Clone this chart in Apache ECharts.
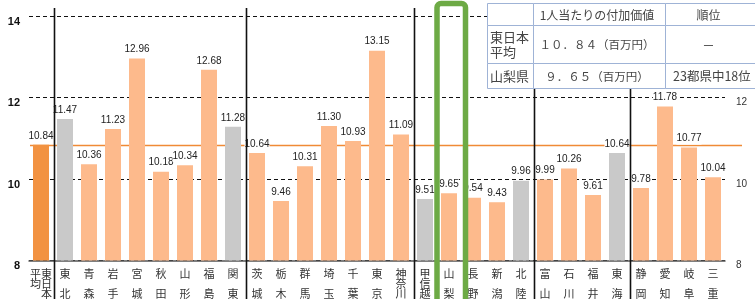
<!DOCTYPE html>
<html>
<head>
<meta charset="utf-8">
<script src="https://cdn.jsdelivr.net/npm/echarts@6/dist/echarts.min.js"></script>
<style>
html,body{margin:0;padding:0;background:#fff}
#main{width:755px;height:299px}
</style>
</head>
<body>
<div id="main"></div>
<script>
// 1人当たりの付加価値（百万円）
var categories = ['東日本平均','東北','青森','岩手','宮城','秋田','山形','福島','関東',
    '茨城','栃木','群馬','埼玉','千葉','東京','神奈川','甲信越','山梨','長野','新潟','北陸',
    '富山','石川','福井','東海','静岡','愛知','岐阜','三重'];
var values = [10.84,11.47,10.36,11.23,12.96,10.18,10.34,12.68,11.28,
    10.64,9.46,10.31,11.30,10.93,13.15,11.09,9.51,9.65,9.54,9.43,9.96,
    9.99,10.26,9.61,10.64,9.78,11.78,10.77,10.04];
var regions = ['東北','関東','甲信越','北陸','東海'];
var groupStarts = ['東北','茨城','甲信越','富山','静岡'];
var average = 10.84;
var highlight = '山梨';
var yMin = 8, yMax = 14, yStep = 2;

var tableHeader = ['', '1人当たりの付加価値', '順位'];
var tableRows = [
    ['東日本\n平均', '１０．８４（百万円）', '－'],
    ['山梨県', '９．６５（百万円）', '23都県中18位']
];

function catLabel(name) {
    if (name.length == 5) {
        // 東日本 / 平均 を縦書き2列で
        return name[3] + name[0] + '\n' + name[4] + name[1] + '\n　' + name[2];
    }
    if (name.length == 2) return name[0] + '\n\n' + name[1];
    return name.split('').join('\n');
}

function barColor(name, i) {
    if (i == 0) return '#F29241';
    if (regions.indexOf(name) >= 0) return '#C9C9C9';
    return '#FDBA8C';
}

var myChart = echarts.init(document.getElementById('main'));
var option = {
    animation: false,
    grid: {left: 29, right: 30, top: 16, bottom: 36},
    xAxis: {
        type: 'category',
        data: categories,
        axisTick: {show: false},
        axisLine: {lineStyle: {color: '#555', width: 1.5}},
        axisLabel: {
            interval: 0,
            margin: 8,
            fontSize: 11,
            lineHeight: 10,
            color: '#333',
            fontFamily: 'Noto Sans CJK JP',
            formatter: catLabel
        }
    },
    yAxis: [
        {
            type: 'value',
            min: yMin, max: yMax, interval: yStep,
            axisLine: {show: false},
            axisTick: {show: false},
            splitLine: {lineStyle: {color: '#111', type: [4, 3], width: 1}},
            axisLabel: {
                margin: 9,
                fontSize: 11,
                fontWeight: 'bold',
                color: '#111',
                fontFamily: 'Arial',
                verticalAlign: 'top'
            }
        },
        {
            type: 'value',
            position: 'right',
            min: yMin, max: yMax, interval: yStep,
            axisLine: {show: false},
            axisTick: {show: false},
            splitLine: {show: false},
            axisLabel: {
                margin: 11,
                fontSize: 10,
                color: '#333',
                fontFamily: 'Arial',
                verticalAlign: 'top'
            }
        }
    ],
    series: [{
        type: 'bar',
        z: 5,
        barWidth: 16,
        data: values.map(function (v, i) {
            return {value: v, itemStyle: {color: barColor(categories[i], i)}};
        }),
        label: {
            show: true,
            position: 'top',
            distance: 3,
            fontSize: 10,
            fontFamily: 'Arial',
            color: '#222',
            backgroundColor: '#fff',
            padding: [1, 0],
            formatter: function (p) { return p.value.toFixed(2); }
        }
    }]
};
myChart.setOption(option);

// 平均線・区切り線・強調枠・表
function px(i) { return myChart.convertToPixel({xAxisIndex: 0}, i); }
var elements = [];
var avgY = Math.round(myChart.convertToPixel({yAxisIndex: 0}, average)) + 0.5;
elements.push({
    type: 'line', z: 3,
    shape: {x1: 30, y1: avgY, x2: 742, y2: avgY},
    style: {stroke: '#F08A36', lineWidth: 1.3}
});
groupStarts.forEach(function (name) {
    var i = categories.indexOf(name);
    var x = Math.round((px(i - 1) + px(i)) / 2) + 1.5;
    elements.push({
        type: 'line', z: 50,
        shape: {x1: x, y1: 8, x2: x, y2: 299},
        style: {stroke: '#111', lineWidth: 1.6}
    });
});
var hx = px(categories.indexOf(highlight));
elements.push({
    type: 'rect', z: 60,
    shape: {x: hx - 12, y: 3.5, width: 28.5, height: 320, r: 4},
    style: {fill: null, stroke: '#6DAA45', lineWidth: 5.5}
});

var colX = [487, 533, 665, 772];
var rowY = [3, 25, 63, 88];
var allRows = [tableHeader].concat(tableRows);
allRows.forEach(function (row, r) {
    row.forEach(function (txt, c) {
        var x0 = colX[c], x1 = colX[c + 1], y0 = rowY[r], y1 = rowY[r + 1];
        elements.push({
            type: 'rect', z: 70,
            shape: {x: x0 + 0.5, y: y0 + 0.5, width: x1 - x0, height: y1 - y0},
            style: {fill: '#fff', stroke: '#9FB3D6', lineWidth: 1}
        });
        var leftCell = (c == 0) || (r == 2 && c == 2);
        elements.push({
            type: 'text', z: 71,
            x: leftCell ? x0 + (c == 0 ? 3 : 8) : (x0 + x1) / 2 - (c == 2 ? 10 : 2),
            y: (y0 + y1) / 2 + 1,
            style: {
                text: txt,
                fontSize: r == 0 ? 12 : (c == 0 ? 13 : (c == 1 ? 11.5 : 12.5)),
                lineHeight: 15,
                fontFamily: 'Noto Sans CJK JP',
                fill: '#444',
                align: leftCell ? 'left' : 'center',
                verticalAlign: 'middle'
            }
        });
    });
});
myChart.setOption({graphic: {elements: elements}});
</script>
</body>
</html>
